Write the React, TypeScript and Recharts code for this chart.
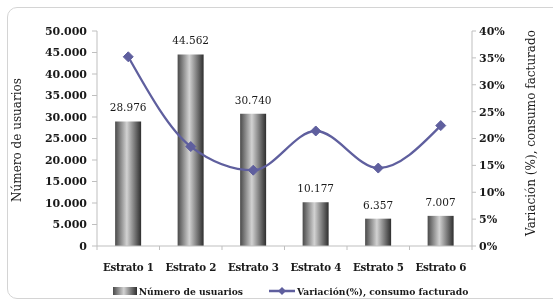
import React from 'react';
import { ComposedChart, Bar, Line, XAxis, YAxis, LabelList, Legend } from 'recharts';

const categories = ['Estrato 1', 'Estrato 2', 'Estrato 3', 'Estrato 4', 'Estrato 5', 'Estrato 6'];
const usuarios = [28976, 44562, 30740, 10177, 6357, 7007];
const variacion = [0.352, 0.185, 0.141, 0.214, 0.145, 0.224];
const leftTicks = [0, 5000, 10000, 15000, 20000, 25000, 30000, 35000, 40000, 45000, 50000];
const rightTicks = [0, 0.05, 0.1, 0.15, 0.2, 0.25, 0.3, 0.35, 0.4];

const data = categories.map((c, i) => ({ name: c, usuarios: usuarios[i], variacion: variacion[i] }));

const FONT = '"DejaVu Serif", serif';
const W = 545;
const H = 295;
const LEFT_W = 89;
const RIGHT_W = 81;
const BAND = (W - LEFT_W - RIGHT_W) / categories.length;
const AXIS = '#bfbfbf';
const LINE = '#5f5f9e';

const fmtThousands = (v: number) => String(Math.round(v)).replace(/\B(?=(\d{3})+(?!\d))/g, '.');

const XTick = (props: any) => {
  const { x, y, payload, index } = props;
  return (
    <g>
      <line x1={x - BAND / 2} x2={x - BAND / 2} y1={y - 8} y2={y - 4} stroke={AXIS} />
      {index === categories.length - 1 && (
        <line x1={x + BAND / 2} x2={x + BAND / 2} y1={y - 8} y2={y - 4} stroke={AXIS} />
      )}
      <text x={x} y={y + 17} textAnchor="middle" fontFamily={FONT} fontSize={10.3} fontWeight="bold" letterSpacing={-0.25} fill="#1a1a1a">
        {payload.value}
      </text>
    </g>
  );
};

const Diamond = (props: any) => {
  const { cx, cy } = props;
  if (cx == null || cy == null) return <g />;
  const r = 5;
  return <path d={`M${cx},${cy - r}L${cx + r},${cy}L${cx},${cy + r}L${cx - r},${cy}Z`} fill={LINE} stroke={LINE} />;
};

const LegendContent = () => (
  <div style={{ display: 'flex', justifyContent: 'center', alignItems: 'center', fontFamily: FONT, fontSize: 9.2, fontWeight: 'bold', color: '#1a1a1a', paddingTop: 9, paddingLeft: 20 }}>
    <svg width={24} height={10} style={{ marginRight: 2 }}>
      <rect x={0} y={1} width={24} height={8} fill="url(#barGrad)" />
    </svg>
    <span style={{ marginRight: 26 }}>Número de usuarios</span>
    <svg width={26} height={12} style={{ marginRight: 2 }}>
      <line x1={0} x2={26} y1={6} y2={6} stroke={LINE} strokeWidth={2.5} />
      <path d="M13,2L17,6L13,10L9,6Z" fill={LINE} />
    </svg>
    <span>Variación(%), consumo facturado</span>
  </div>
);

export default function App() {
  return (
    <div style={{ position: 'relative', width: W, height: H }}>
      <div style={{ position: 'fixed', left: 7, top: 7, width: 570, height: 292, border: '1px solid #d4d4d4', borderRadius: 10, boxSizing: 'border-box' }} />
      <ComposedChart width={W} height={H} data={data} margin={{ top: 23, right: 0, bottom: 0, left: 0 }} barCategoryGap="29%">
        <defs>
          <linearGradient id="barGrad" x1="0" y1="0" x2="1" y2="0">
            <stop offset="0%" stopColor="#4a4a4a" />
            <stop offset="45%" stopColor="#d2d2d2" />
            <stop offset="100%" stopColor="#2e2e2e" />
          </linearGradient>
        </defs>
        <XAxis dataKey="name" height={30} stroke={AXIS} tickLine={false} tick={<XTick />} interval={0} />
        <YAxis
          yAxisId="left"
          width={LEFT_W}
          domain={[0, 50000]}
          ticks={leftTicks}
          interval={0}
          tickFormatter={fmtThousands}
          stroke={AXIS}
          tickSize={5}
          tickMargin={5}
          tick={{ fontFamily: FONT, fontSize: 11, fontWeight: 'bold', fill: '#1a1a1a' }}
          label={{
            content: () => (
              <text transform={`translate(13, ${132}) rotate(-90)`} textAnchor="middle" fontFamily={FONT} fontSize={12} fill="#1a1a1a">
                Número de usuarios
              </text>
            ),
          }}
        />
        <YAxis
          yAxisId="right"
          orientation="right"
          width={RIGHT_W}
          domain={[0, 0.4]}
          ticks={rightTicks}
          interval={0}
          tickFormatter={(v: number) => `${Math.round(v * 100)}%`}
          stroke={AXIS}
          tickSize={4}
          tickMargin={3}
          tick={{ fontFamily: FONT, fontSize: 11, fontWeight: 'bold', fill: '#1a1a1a' }}
          label={{
            content: () => (
              <text transform={`translate(527, ${125}) rotate(-90)`} textAnchor="middle" fontFamily={FONT} fontSize={12} fill="#1a1a1a">
                Variación (%), consumo facturado
              </text>
            ),
          }}
        />
        <Legend verticalAlign="bottom" wrapperStyle={{ height: 27 }} content={<LegendContent />} />
        <Bar yAxisId="left" dataKey="usuarios" fill="url(#barGrad)" isAnimationActive={false}>
          <LabelList dataKey="usuarios" position="top" offset={10} formatter={(v: any) => fmtThousands(Number(v))} style={{ fontFamily: FONT, fontSize: 10.5, fill: '#1a1a1a' }} />
        </Bar>
        <Line yAxisId="right" dataKey="variacion" type="monotone" stroke={LINE} strokeWidth={2.3} dot={<Diamond />} activeDot={false} isAnimationActive={false} />
      </ComposedChart>
    </div>
  );
}
